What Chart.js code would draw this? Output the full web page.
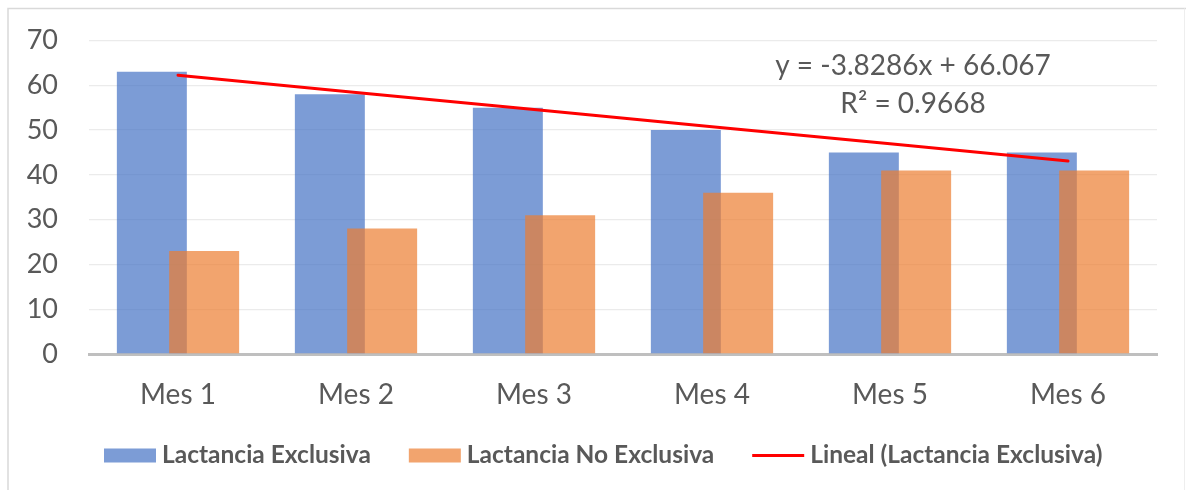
<!DOCTYPE html>
<html>
<head>
<meta charset="utf-8">
<script src="https://cdn.jsdelivr.net/npm/chart.js@4.4.0/dist/chart.umd.min.js"></script>
<style>
  html, body { margin: 0; padding: 0; background: #ffffff; }
  #wrap { width: 1186px; height: 490px; position: relative; }
</style>
</head>
<body>
<div id="wrap"><canvas id="chart" width="1186" height="490"></canvas></div>
<script>
// Monthly breastfeeding shares (%)
const categories = ['Mes 1', 'Mes 2', 'Mes 3', 'Mes 4', 'Mes 5', 'Mes 6'];
const exclusiva = [63, 58, 55, 50, 45, 45];
const noExclusiva = [23, 28, 31, 36, 41, 41];
const yTicks = [0, 10, 20, 30, 40, 50, 60, 70];

// Linear trend of the exclusive series
const trendSlope = -3.8286;
const trendIntercept = 66.067;
const trendR2 = 0.9668;

const seriesLabels = ['Lactancia Exclusiva', 'Lactancia No Exclusiva', 'Lineal (Lactancia Exclusiva)'];

const TEXT = '#595959';
const FONT = 'Lato';

const trendValues = categories.map((_, i) => trendSlope * (i + 1) + trendIntercept);

// Light frame around the chart
const framePlugin = {
  id: 'frame',
  beforeDraw(chart) {
    const ctx = chart.ctx;
    ctx.save();
    ctx.fillStyle = '#ffffff';
    ctx.fillRect(0, 0, chart.width, chart.height);
    ctx.strokeStyle = '#D9D9D9';
    ctx.lineWidth = 1.5;
    ctx.beginPath();
    ctx.moveTo(8, chart.height);
    ctx.lineTo(8, 8.5);
    ctx.lineTo(chart.width, 8.5);
    ctx.stroke();
    ctx.strokeStyle = '#EEEEEE';
    ctx.lineWidth = 1;
    ctx.beginPath();
    ctx.moveTo(1184.5, 8.5);
    ctx.lineTo(1184.5, chart.height);
    ctx.stroke();
    ctx.restore();
  }
};

// Paint the exclusive bars first so the second series overlaps them
const layeringPlugin = {
  id: 'layering',
  beforeDatasetsDraw(chart) {
    const meta = chart.getDatasetMeta(0);
    const a = chart.chartArea;
    const ctx = chart.ctx;
    ctx.save();
    ctx.beginPath();
    ctx.rect(a.left, a.top - 2, a.width, a.height + 2);
    ctx.clip();
    meta.controller.draw();
    ctx.restore();
  },
  beforeDatasetDraw(chart, args) {
    if (args.index === 0) return false;
  }
};

// Trend equation and R²
const equationPlugin = {
  id: 'equation',
  afterDatasetsDraw(chart, args, opts) {
    const ctx = chart.ctx;
    ctx.save();
    ctx.font = `${opts.size}px ${FONT}`;
    ctx.fillStyle = TEXT;
    ctx.textAlign = 'center';
    ctx.textBaseline = 'alphabetic';
    const sign = trendIntercept < 0 ? '-' : '+';
    ctx.fillText(`y = ${trendSlope}x ${sign} ${Math.abs(trendIntercept)}`, opts.x, opts.y1);
    ctx.fillText(`R\u00B2 = ${trendR2}`, opts.x, opts.y2);
    ctx.restore();
  }
};

// Legend row under the category labels
const legendPlugin = {
  id: 'seriesLegend',
  afterDraw(chart, args, opts) {
    const ctx = chart.ctx;
    ctx.save();
    ctx.font = `bold ${opts.size}px ${FONT}`;
    ctx.textBaseline = 'alphabetic';
    ctx.textAlign = 'left';
    let x = opts.left;
    const yMid = opts.y;
    chart.data.datasets.forEach((ds) => {
      if (ds.type === 'line') {
        ctx.strokeStyle = ds.borderColor;
        ctx.lineWidth = 3;
        ctx.beginPath();
        ctx.moveTo(x, yMid);
        ctx.lineTo(x + opts.box, yMid);
        ctx.stroke();
      } else {
        ctx.fillStyle = ds.backgroundColor;
        ctx.fillRect(x, yMid - 7, opts.box, 14);
      }
      x += opts.box + opts.gap;
      ctx.fillStyle = TEXT;
      ctx.fillText(ds.label, x, opts.baseline);
      x += ctx.measureText(ds.label).width + opts.spacing;
    });
    ctx.restore();
  }
};

function build() {
  Chart.defaults.font.family = FONT;
  Chart.defaults.color = TEXT;

  new Chart(document.getElementById('chart'), {
    data: {
      labels: categories,
      datasets: [
        {
          type: 'bar',
          label: seriesLabels[0],
          data: exclusiva,
          backgroundColor: 'rgba(68, 114, 196, 0.7)',
          borderWidth: 0,
          categoryPercentage: 0.5876,
          barPercentage: 1.338
        },
        {
          type: 'bar',
          label: seriesLabels[1],
          data: noExclusiva,
          backgroundColor: 'rgba(237, 125, 49, 0.7)',
          borderWidth: 0,
          categoryPercentage: 0.5876,
          barPercentage: 1.338
        },
        {
          type: 'line',
          label: seriesLabels[2],
          data: trendValues,
          borderColor: '#FF0000',
          borderWidth: 3,
          borderCapStyle: 'round',
          pointRadius: 0,
          fill: false,
          tension: 0
        }
      ]
    },
    options: {
      responsive: false,
      animation: false,
      devicePixelRatio: 1,
      layout: { padding: { left: 0, right: 29, top: 40.5, bottom: 0 } },
      plugins: {
        legend: { display: false },
        tooltip: { enabled: false },
        equation: { x: 913, y1: 75, y2: 113, size: 28 },
        seriesLegend: { left: 104, y: 455.5, baseline: 463.3, box: 52, gap: 6, spacing: 38, size: 24.5 }
      },
      scales: {
        x: {
          type: 'category',
          offset: true,
          grid: { display: false, drawTicks: false },
          border: { display: true, color: '#BFBFBF', width: 3 },
          ticks: { color: TEXT, font: { size: 28, family: FONT }, padding: 24, maxRotation: 0 },
          afterFit(scale) { scale.height = 136; }
        },
        y: {
          min: 0,
          max: 70,
          afterBuildTicks(scale) { scale.ticks = yTicks.map(v => ({ value: v })); },
          grid: { color: '#EBEBEB', lineWidth: 1.3, drawTicks: false },
          border: { display: false },
          ticks: { color: TEXT, font: { size: 27, family: FONT }, padding: 31 },
          afterFit(scale) {
            scale.width = 89;
            scale.paddingTop = 0;
            scale.paddingBottom = 0;
          }
        }
      }
    },
    plugins: [framePlugin, layeringPlugin, equationPlugin, legendPlugin]
  });
}

if (document.fonts && document.fonts.load) {
  Promise.all([
    document.fonts.load(`27px ${FONT}`),
    document.fonts.load(`bold 24px ${FONT}`)
  ]).then(build, build);
} else {
  build();
}
</script>
</body>
</html>
